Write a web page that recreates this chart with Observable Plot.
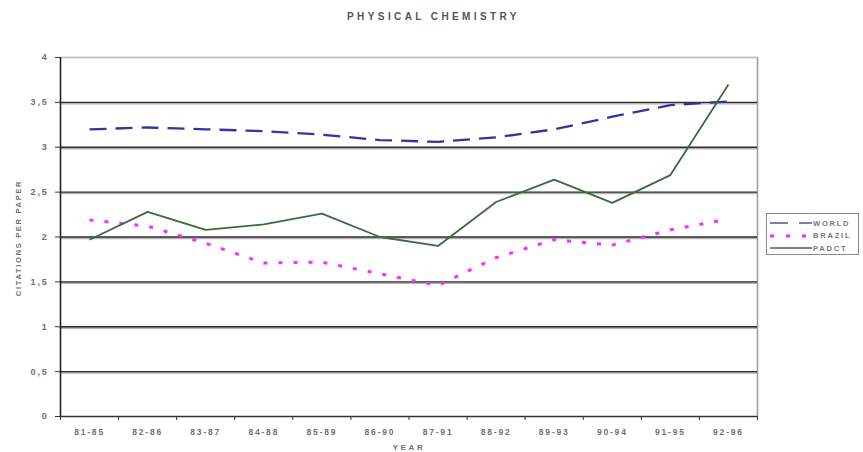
<!DOCTYPE html>
<html>
<head>
<meta charset="utf-8">
<script src="https://cdn.jsdelivr.net/npm/d3@7"></script>
<script src="https://cdn.jsdelivr.net/npm/@observablehq/plot@0.6"></script>
<style>
  html, body { margin: 0; padding: 0; background: #fff; }
  #wrap { position: relative; width: 863px; height: 452px; overflow: hidden; font-family: "Liberation Sans", Arial, sans-serif; }
  #title { position: absolute; left: 2px; width: 863px; top: 11px; text-align: center; font-size: 10px; font-weight: bold; letter-spacing: 3.4px; color: #555; }
  #legend { position: absolute; left: 766px; top: 213px; width: 93px; height: 42px; border: 1px solid #8a8a8a; box-sizing: border-box; background: #fff; }
  #legend .row { position: absolute; left: 3px; height: 12px; display: flex; align-items: center; font-size: 7.5px; font-weight: bold; letter-spacing: 1.8px; color: #777; }
  #legend svg { margin-right: 1px; }
</style>
</head>
<body>
<div id="wrap">
  <div id="title">PHYSICAL CHEMISTRY</div>
  <div id="chart"></div>
  <div id="legend"></div>
</div>
<script>
// Five-year periods and citations per paper
const periods = ["81-85", "82-86", "83-87", "84-88", "85-89", "86-90", "87-91", "88-92", "89-93", "90-94", "91-95", "92-96"];
const world  = [3.20, 3.22, 3.20, 3.18, 3.14, 3.08, 3.06, 3.11, 3.20, 3.34, 3.47, 3.51];
const brazil = [2.19, 2.12, 1.93, 1.71, 1.72, 1.59, 1.46, 1.77, 1.97, 1.91, 2.08, 2.20];
const padct  = [1.97, 2.28, 2.08, 2.14, 2.26, 2.00, 1.90, 2.39, 2.64, 2.38, 2.69, 3.70];
const yTicks = [0, 0.5, 1, 1.5, 2, 2.5, 3, 3.5, 4];
const seriesNames = ["WORLD", "BRAZIL", "PADCT"];

const styles = {
  WORLD:  {stroke: "#3434a0", strokeWidth: 2.3, strokeDasharray: "17,9"},
  BRAZIL: {stroke: "#ff2aff", strokeWidth: 3, strokeDasharray: "4,11"},
  PADCT:  {stroke: "#3b6b3b", strokeWidth: 1.8, strokeDasharray: null}
};

const rows = [];
[world, brazil, padct].forEach((vals, s) => {
  vals.forEach((v, i) => rows.push({series: seriesNames[s], i, value: v}));
});

const idx = periods.map((_, i) => i);
const bounds = d3.range(-0.5, periods.length, 1);
const comma = d => String(d).replace(".", ",");
const labelFill = "#707070";
const yTitle = "CITATIONS PER PAPER";
const xTitle = "YEAR";

const chart = Plot.plot({
  width: 863,
  height: 452,
  marginLeft: 60,
  marginRight: 106,
  marginTop: 57,
  marginBottom: 36,
  style: {fontFamily: "Liberation Sans, Arial, sans-serif", background: "#fff"},
  x: {type: "linear", domain: [-0.5, periods.length - 0.5]},
  y: {domain: [0, 4]},
  marks: [
    // plot border on the right side
    Plot.ruleX([periods.length - 0.5], {stroke: "#9a9a9a", strokeWidth: 1.5}),
    // horizontal gridlines with a soft shadow
    Plot.ruleY(yTicks.filter(d => d > 0 && d < 4), {stroke: "#b4b4b4", strokeWidth: 2, dy: 1.2}),
    Plot.ruleY(yTicks.filter(d => d > 0 && d < 4), {stroke: "#2e2e2e", strokeWidth: 1.3}),
    Plot.ruleY([4], {stroke: "#c8c8c8", strokeWidth: 2}),
    // axis lines
    Plot.ruleY([0], {stroke: "#333", strokeWidth: 1.6}),
    Plot.ruleX([-0.5], {stroke: "#222", strokeWidth: 1.6}),
    Plot.axisY({ticks: yTicks, tickSize: 5, tickPadding: 7, tickFormat: comma, fontSize: 9, fontWeight: "bold", fill: labelFill, stroke: "#333", label: null}),
    Plot.axisX({ticks: bounds, tickSize: 4, tickFormat: () => "", stroke: "#333", label: null}),
    Plot.axisX({ticks: idx, tickSize: 0, tickPadding: 12, tickFormat: i => periods[i], fontSize: 8.5, fontWeight: "bold", fill: labelFill, label: null}),
    // data lines
    ...seriesNames.map(name => Plot.line(rows.filter(r => r.series === name), {
      x: "i", y: "value", ...styles[name], strokeLinecap: "butt"
    })),
    // axis titles
    Plot.text([yTitle], {frameAnchor: "left", textAnchor: "middle", dx: -42, dy: 1, rotate: -90, fontSize: 7.5, fontWeight: "bold", fill: labelFill}),
    Plot.text([xTitle], {frameAnchor: "bottom", dy: 33, fontSize: 8, fontWeight: "bold", fill: labelFill})
  ]
});
document.getElementById("chart").appendChild(chart);

// letter spacing of the axis texts
const svg = d3.select(chart);
svg.selectAll("[aria-label='x-axis tick label'] text").attr("letter-spacing", "1.8px");
svg.selectAll("[aria-label='y-axis tick label'] text").attr("letter-spacing", "1.8px");
svg.selectAll("text").filter(function () { return this.textContent === yTitle; }).attr("letter-spacing", "1.7px");
svg.selectAll("text").filter(function () { return this.textContent === xTitle; }).attr("letter-spacing", "2.6px");

// legend
const legend = d3.select("#legend");
seriesNames.forEach((name, k) => {
  const row = legend.append("div").attr("class", "row").style("top", (3 + k * 12.5) + "px");
  const s = row.append("svg").attr("width", 42).attr("height", 8);
  const st = styles[name];
  s.append("line").attr("x1", 0).attr("x2", 42).attr("y1", 4).attr("y2", 4)
    .attr("stroke", name === "WORLD" ? "#7a7ac8" : name === "PADCT" ? "#6d8f6d" : st.stroke)
    .attr("stroke-width", name === "BRAZIL" ? 3 : 2)
    .attr("stroke-dasharray", name === "WORLD" ? "18,11" : name === "BRAZIL" ? "4,12" : null);
  row.append("span").text(name);
});
</script>
</body>
</html>
